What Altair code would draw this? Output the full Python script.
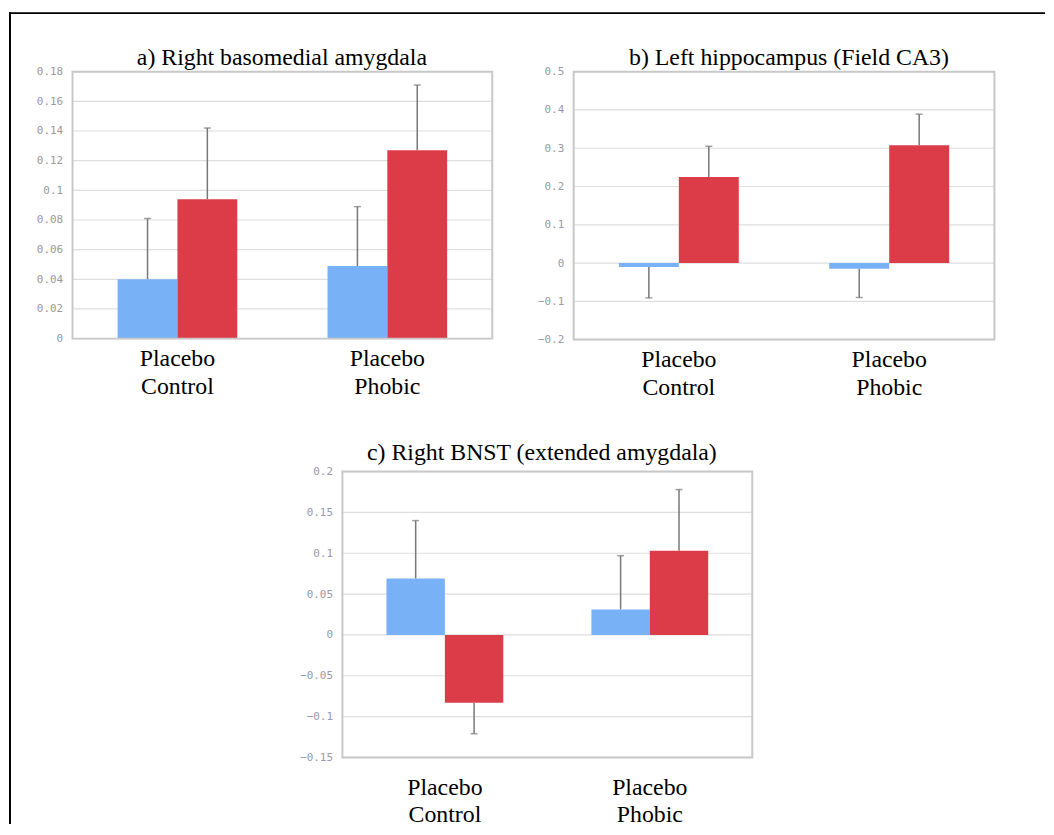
import altair as alt
import pandas as pd

groups = ["Placebo Control", "Placebo Phobic"]
series = ["blue", "red"]
colors = ["#79b1f6", "#dc3c48"]

# panel a) Right basomedial amygdala
a_title = "a) Right basomedial amygdala"
a_blue = [0.040, 0.049]
a_red = [0.094, 0.127]
a_blue_err = [0.081, 0.089]
a_red_err = [0.142, 0.171]
a_ticks = [0, 0.02, 0.04, 0.06, 0.08, 0.1, 0.12, 0.14, 0.16, 0.18]

# panel b) Left hippocampus (Field CA3)
b_title = "b) Left hippocampus (Field CA3)"
b_blue = [-0.010, -0.015]
b_red = [0.225, 0.308]
b_blue_err = [-0.091, -0.090]
b_red_err = [0.305, 0.389]
b_ticks = [-0.2, -0.1, 0, 0.1, 0.2, 0.3, 0.4, 0.5]

# panel c) Right BNST (extended amygdala)
c_title = "c) Right BNST (extended amygdala)"
c_blue = [0.069, 0.031]
c_red = [-0.083, 0.103]
c_blue_err = [0.140, 0.097]
c_red_err = [-0.121, 0.178]
c_ticks = [-0.15, -0.1, -0.05, 0, 0.05, 0.1, 0.15, 0.2]

SERIF = "Liberation Serif"
W, H = 1044, 818          # whole drawing area (page origin at 8, 8)
one = alt.Data(values=[{"k": 1}])


def make_df(blue, red, blue_err, red_err):
    rows = []
    for i, g in enumerate(groups):
        rows.append({"group": g, "series": "blue", "value": blue[i], "err": blue_err[i]})
        rows.append({"group": g, "series": "red", "value": red[i], "err": red_err[i]})
    return pd.DataFrame(rows)


def panel(title, df, ticks, domain, fmt, box, title_pos, xlab_pad, ylab_color):
    x0, x1, y0, y1 = box
    xscale = alt.Scale(domain=groups, range=[x0, x1], paddingInner=0.43, paddingOuter=0.215)
    yscale = alt.Scale(domain=domain, range=[y1, y0], nice=False, zero=False)
    xaxis = alt.Axis(orient="bottom", offset=y1 - H, labelExpr="split(datum.label, ' ')",
                     labelFont=SERIF, labelFontSize=24, labelColor="black", labelAngle=0,
                     labelAlign="center", labelLineHeight=28, labelPadding=xlab_pad,
                     ticks=False, domain=False, grid=False, title=None)
    yaxis = alt.Axis(orient="left", offset=-x0, values=ticks, format=fmt,
                     labelFont="DejaVu Sans Mono", labelFontSize=11, labelColor=ylab_color,
                     labelPadding=10, labelOverlap=False, ticks=False, domain=False,
                     grid=False, title=None)
    x = alt.X("group:N", sort=groups, scale=xscale, axis=xaxis)
    xo = alt.XOffset("series:N", sort=series, scale=alt.Scale(paddingInner=0, paddingOuter=0))
    base = alt.Chart(df)

    grid = alt.Chart(pd.DataFrame({"tick": ticks})).mark_rule(
        color="#dedede", strokeWidth=1.2).encode(
        y=alt.Y("tick:Q", scale=yscale, axis=yaxis), x=alt.value(x0), x2=alt.value(x1))
    rules = base.mark_rule(color="#777777", strokeWidth=1.5).encode(
        x=x, xOffset=xo, y=alt.Y("value:Q", scale=yscale, axis=yaxis), y2="err:Q")
    bars = base.mark_bar().encode(
        x=x, xOffset=xo, y=alt.Y("value:Q", scale=yscale, axis=yaxis),
        color=alt.Color("series:N", scale=alt.Scale(domain=series, range=colors), legend=None))
    caps = base.mark_tick(color="#777777", thickness=1.5, size=7).encode(
        x=x, xOffset=xo, y=alt.Y("err:Q", scale=yscale, axis=yaxis))
    border = alt.Chart(one).mark_rect(fillOpacity=0, stroke="#c8c8c8", strokeWidth=2).encode(
        x=alt.value(x0), x2=alt.value(x1), y=alt.value(y0), y2=alt.value(y1))
    head = alt.Chart(one).mark_text(font=SERIF, fontSize=24, align="center",
                                    baseline="alphabetic", color="black").encode(
        x=alt.value(title_pos[0]), y=alt.value(title_pos[1]), text=alt.value(title))
    return alt.layer(grid, rules, bars, caps, border, head)


pa = panel(a_title, make_df(a_blue, a_red, a_blue_err, a_red_err), a_ticks, [0, 0.18],
           ".2~f", (64, 487, 60, 329), (275, 53), 8, "#9a9a9a")
pb = panel(b_title, make_df(b_blue, b_red, b_blue_err, b_red_err), b_ticks, [-0.2, 0.5],
           ".1~f", (569, 993, 60, 330), (786, 53), 8, "#9c98a8")
pc = panel(c_title, make_df(c_blue, c_red, c_blue_err, c_red_err), c_ticks, [-0.15, 0.2],
           ".2~f", (336, 749, 463, 751), (537, 451), 18, "#9c98a8")

# outer black frame: only its left and top edges fall inside the picture
frame_left = alt.Chart(one).mark_rule(color="black", strokeWidth=2).encode(
    x=alt.value(1), y=alt.value(0), y2=alt.value(H))
frame_top = alt.Chart(one).mark_rule(color="black", strokeWidth=2).encode(
    x=alt.value(0), x2=alt.value(W), y=alt.value(1))

chart = alt.layer(pa, pb, pc, frame_left, frame_top).resolve_scale(
    x="independent", y="independent", xOffset="independent"
).properties(width=W, height=H, padding=0, background="white").configure_view(strokeOpacity=0)

chart.save("out.html", embed_options={"renderer": "svg", "actions": False})
